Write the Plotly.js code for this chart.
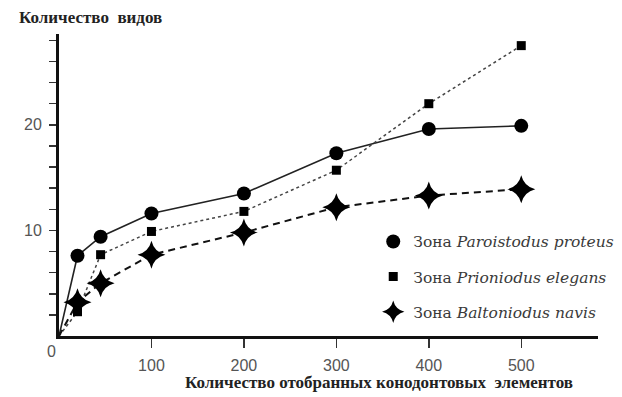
<!DOCTYPE html>
<html>
<head>
<meta charset="utf-8">
<script src="https://cdn.plot.ly/plotly-3.0.1.min.js"></script>
<style>html,body{margin:0;padding:0;background:#fff}#chart{width:622px;height:397px}</style>
</head>
<body>
<div id="chart"></div>
<script>
const sampleSizes = [0, 20, 45, 100, 200, 300, 400, 500];
const paroistodus = [0, 7.6, 9.4, 11.6, 13.5, 17.3, 19.6, 19.9];
const prioniodus  = [0, 2.3, 7.7, 9.9, 11.8, 15.7, 22.0, 27.5];
const baltoniodus = [0, 3.2, 5.0, 7.7, 9.8, 12.2, 13.3, 13.9];
const seriesNames = ['Зона <i>Paroistodus proteus</i>', 'Зона <i>Prioniodus elegans</i>', 'Зона <i>Baltoniodus navis</i>'];
const xTickLabels = ['100', '200', '300', '400', '500'];
const yTickLabels = ['10', '20'];
const yTitle = 'Количество  видов';
const xTitle = 'Количество отобранных конодонтовых  элементов';

const xTickVals = xTickLabels.map(Number);
const yTickVals = [];
const yTickText = [];
for (let v = 2; v <= 28; v += 2) { yTickVals.push(v); yTickText.push(yTickLabels.includes(String(v)) ? String(v) : ''); }

const series = [paroistodus, prioniodus, baltoniodus];
const lineStyles = [
  { color: '#222', width: 1.6 },
  { color: '#444', width: 1.5, dash: 'dot' },
  { color: '#111', width: 2, dash: '7px,5px' }
];
const markerStyles = [
  { symbol: 'circle', color: '#000', size: 14, opacity: 1, line: { width: 0 } },
  { symbol: 'square', color: '#000', size: 9, opacity: 1, line: { width: 0 } },
  { symbol: 'star-diamond', color: '#000', size: 20, opacity: 1, line: { width: 0 } }
];

const SERIF = 'Liberation Serif';
const LEGEND_SERIF = 'DejaVu Serif';
const SANS = 'Liberation Sans';

const traces = [];
series.forEach((ys, k) => {
  traces.push({ x: sampleSizes, y: ys, mode: 'lines', line: lineStyles[k], showlegend: false, hoverinfo: 'skip' });
});
series.forEach((ys, k) => {
  traces.push({ x: sampleSizes.slice(1), y: ys.slice(1), mode: 'markers', name: seriesNames[k], legendgroup: 'g' + k,
    marker: markerStyles[k] });
});

const layout = {
  width: 622, height: 397,
  font: { family: SERIF, size: 16, color: '#333' },
  margin: { l: 59, r: 24, t: 34, b: 61, autoexpand: false },
  paper_bgcolor: '#fff', plot_bgcolor: '#fff',
  showlegend: true,
  legend: { x: 0.583, y: 0.368, xanchor: 'left', yanchor: 'top', bgcolor: 'rgba(0,0,0,0)',
    font: { family: LEGEND_SERIF, size: 15.5, color: '#3a3a3a' }, tracegroupgap: 12, itemsizing: 'trace' },
  xaxis: { range: [0, 583], showgrid: false, zeroline: false, showline: true, linecolor: '#111', linewidth: 3,
    ticks: 'outside', ticklen: 9, tickwidth: 1.5, tickcolor: '#333', tickvals: xTickVals, ticktext: xTickLabels,
    tickfont: { family: SANS, size: 16, color: '#555' }, ticklabelstandoff: 4 },
  yaxis: { range: [0, 28.6], showgrid: false, zeroline: false, showline: true, linecolor: '#111', linewidth: 3,
    ticks: 'outside', ticklen: 7, tickwidth: 1.5, tickcolor: '#333', tickvals: yTickVals, ticktext: yTickText,
    tickfont: { family: SANS, size: 16, color: '#555' }, ticklabelstandoff: 4 },
  annotations: [
    { text: yTitle, xref: 'paper', yref: 'paper', x: -59 / 539 + 17 / 539, y: 1 + (34 - 18) / 302, xanchor: 'left', yanchor: 'middle',
      showarrow: false, font: { family: SERIF, size: 17, color: '#222', weight: 'bold' } },
    { text: xTitle, xref: 'paper', yref: 'paper', x: (183 - 59) / 539, y: -(382 - 336) / 302, xanchor: 'left', yanchor: 'middle',
      showarrow: false, font: { family: SERIF, size: 17, color: '#222', weight: 'bold' } },
    { text: '0', xref: 'paper', yref: 'paper', x: -(59 - 51) / 539, y: -(351 - 336) / 302, xanchor: 'center', yanchor: 'middle',
      showarrow: false, font: { family: SANS, size: 16, color: '#555' } }
  ]
};

Plotly.newPlot('chart', traces, layout, { staticPlot: true, displayModeBar: false });
</script>
</body>
</html>
